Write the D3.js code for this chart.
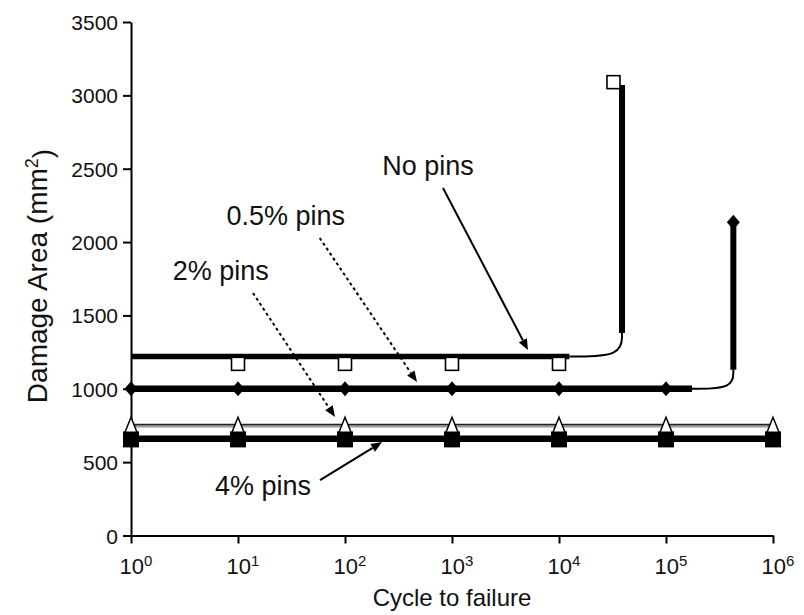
<!DOCTYPE html>
<html>
<head>
<meta charset="utf-8">
<script src="https://cdn.jsdelivr.net/npm/d3@7"></script>
<style>
  body { margin: 0; background: #fff; }
  svg { display: block; }
  text { font-family: "Liberation Sans", Arial, Helvetica, sans-serif; fill: #111; }
</style>
</head>
<body>
<svg id="chart" width="804" height="615"></svg>
<script>
// ---------------- data ----------------
const decades = [1, 10, 100, 1000, 1e4, 1e5, 1e6];
const decadeExponents = [0, 1, 2, 3, 4, 5, 6];
const yTicks = [0, 500, 1000, 1500, 2000, 2500, 3000, 3500];

// No pins
const noPinsLineX = [1, 12500];
const noPinsLevel = 1220;
const noPinsElbowX = [12500, 38800, 38800];
const noPinsElbowY = [1220, 1220, 1380];
const noPinsRiseX = [38800, 38800];
const noPinsRiseY = [1380, 3070];
const noPinsMarkerX = [10, 100, 1000, 10000];
const noPinsMarkerY = [1170, 1170, 1170, 1170];
const noPinsFailX = [32300];
const noPinsFailY = [3090];

// 0.5% pins
const pins05LineX = [1, 175000];
const pins05Level = 1000;
const pins05ElbowX = [175000, 426000, 426000];
const pins05ElbowY = [1000, 1000, 1130];
const pins05RiseX = [426000, 426000];
const pins05RiseY = [1130, 2110];
const pins05MarkerX = [1, 10, 100, 1000, 1e4, 1e5];
const pins05MarkerY = [1000, 1000, 1000, 1000, 1000, 1000];
const pins05FailX = [426000];
const pins05FailY = [2135];

// 2% pins
const pins2LineX = [1, 1e6];
const pins2Level = 750;
const pins2MarkerX = [1, 10, 100, 1000, 1e4, 1e5, 1e6];
const pins2MarkerY = [745, 745, 745, 745, 745, 745, 745];

// 4% pins
const pins4LineX = [1, 1e6];
const pins4Level = 660;
const pins4MarkerX = [1, 10, 100, 1000, 1e4, 1e5, 1e6];
const pins4MarkerY = [655, 655, 655, 655, 655, 655, 655];

// annotations
const annoText = ["No pins", "0.5% pins", "2% pins", "4% pins"];
const annoX = [597, 28, 6.9, 17.1];
const annoY = [2455, 2116, 1742, 276];
const arrowX0 = [824, 58, 13.8, 58.4];
const arrowY0 = [2369, 2028, 1653, 378];
const arrowX1 = [5130, 471, 80.7, 222];
const arrowY1 = [1264, 1046, 808, 637];
const arrowDashed = [false, true, true, false];

// ---------------- drawing ----------------
const svg = d3.select("#chart");
const x = d3.scaleLog().domain([1, 1e6]).range([131, 773]);
const y = d3.scaleLinear().domain([0, 3500]).range([535.5, 22]);

const line = d3.line().x(d => x(d[0])).y(d => y(d[1]));
const curve = d3.line().x(d => x(d[0])).y(d => y(d[1])).curve(d3.curveBasis);
const zip = (a, b) => a.map((v, i) => [v, b[i]]);
const flat = (xs, lvl) => xs.map(v => [v, lvl]);

// axes
const yAxis = d3.axisLeft(y).tickValues(yTicks).tickSize(8).tickSizeOuter(0).tickPadding(5)
  .tickFormat(d3.format("d"));
const gy = svg.append("g").attr("transform", `translate(${x(1)},0)`).call(yAxis);
gy.selectAll("text").style("font-size", "21px").attr("fill", "#111").attr("dy", "0.36em");

const xAxis = d3.axisBottom(x).tickValues(decades).tickSize(8).tickSizeOuter(0).tickPadding(6)
  .tickFormat(() => "");
const gx = svg.append("g").attr("transform", `translate(0,${y(0)})`).call(xAxis);
gx.selectAll(".tick text").each(function(d, i) {
  const t = d3.select(this).style("font-size", "22px").attr("fill", "#111")
    .attr("y", 38).attr("dy", 0).attr("dx", "0.2em");
  t.append("tspan").text("10");
  t.append("tspan").text(decadeExponents[i]).attr("dy", "-0.5em").style("font-size", "15px");
});
[gx, gy].forEach(g => {
  g.select(".domain").attr("stroke", "#000").attr("stroke-width", 2);
  g.selectAll(".tick line").attr("stroke", "#000").attr("stroke-width", 2);
});

// axis titles
svg.append("text").attr("x", (x(1) + x(1e6)) / 2).attr("y", 606)
  .attr("text-anchor", "middle").style("font-size", "24px").text("Cycle to failure");
const yt = svg.append("text").attr("transform", `translate(47,276) rotate(-90)`)
  .attr("text-anchor", "middle").style("font-size", "28px");
yt.append("tspan").text("Damage Area (mm");
yt.append("tspan").text("2").attr("dy", "-0.5em").style("font-size", "18px");
yt.append("tspan").text(")").attr("dy", "0.5em");

const plot = svg.append("g");

// 2% line (double-looking)
plot.append("path").attr("d", line(flat(pins2LineX, pins2Level)))
  .attr("fill", "none").attr("stroke", "#222").attr("stroke-width", 3.5);
plot.append("path").attr("d", line(flat(pins2LineX, pins2Level)))
  .attr("fill", "none").attr("stroke", "#fff").attr("stroke-width", 1)
  .attr("transform", "translate(0,0.6)");

// thick lines
function thick(path, w) {
  plot.append("path").attr("d", path).attr("fill", "none").attr("stroke", "#000")
    .attr("stroke-width", w).attr("stroke-linecap", "butt");
}
thick(line(flat(pins4LineX, pins4Level)), 6.5);
thick(line(flat(pins05LineX, pins05Level)), 6.5);
thick(curve(zip(pins05ElbowX, pins05ElbowY)), 2);
thick(line(zip(pins05RiseX, pins05RiseY)), 6);
thick(line(flat(noPinsLineX, noPinsLevel)), 5.5);
thick(curve(zip(noPinsElbowX, noPinsElbowY)), 2);
thick(line(zip(noPinsRiseX, noPinsRiseY)), 6);

// markers: 4% filled squares
plot.selectAll(".sq4").data(zip(pins4MarkerX, pins4MarkerY)).enter().append("rect")
  .attr("x", d => x(d[0]) - 8).attr("y", d => y(d[1]) - 8)
  .attr("width", 16).attr("height", 16).attr("fill", "#000");
// 2% open triangles
plot.selectAll(".tri2").data(zip(pins2MarkerX, pins2MarkerY)).enter().append("path")
  .attr("d", d => { const cx = x(d[0]), cy = y(d[1]);
    return `M${cx},${cy - 9}L${cx + 6},${cy + 6}L${cx - 6},${cy + 6}Z`; })
  .attr("fill", "#fff").attr("stroke", "#000").attr("stroke-width", 1.5);
// 0.5% diamonds
const diamond = (cx, cy) => `M${cx},${cy - 7.5}L${cx + 6.5},${cy}L${cx},${cy + 7.5}L${cx - 6.5},${cy}Z`;
plot.selectAll(".dia").data(zip(pins05MarkerX, pins05MarkerY).concat(zip(pins05FailX, pins05FailY)))
  .enter().append("path").attr("d", d => diamond(x(d[0]), y(d[1]))).attr("fill", "#000");
// no pins open squares
plot.selectAll(".sq0").data(zip(noPinsMarkerX, noPinsMarkerY).concat(zip(noPinsFailX, noPinsFailY)))
  .enter().append("rect")
  .attr("x", d => x(d[0]) - 6.5).attr("y", d => y(d[1]) - 6.5)
  .attr("width", 13).attr("height", 13).attr("fill", "#fff").attr("stroke", "#000").attr("stroke-width", 1.6);

// annotations
annoText.forEach((t, i) => {
  svg.append("text").attr("x", x(annoX[i])).attr("y", y(annoY[i]))
    .attr("text-anchor", "middle").style("font-size", "27px").text(t);
  const x0 = x(arrowX0[i]), y0 = y(arrowY0[i]), x1 = x(arrowX1[i]), y1 = y(arrowY1[i]);
  const ang = Math.atan2(y1 - y0, x1 - x0);
  const L = 11, W = 4.5;
  const bx = x1 - L * Math.cos(ang), by = y1 - L * Math.sin(ang);
  svg.append("line").attr("x1", x0).attr("y1", y0).attr("x2", bx).attr("y2", by)
    .attr("stroke", "#000").attr("stroke-width", 2)
    .attr("stroke-dasharray", arrowDashed[i] ? "3,3" : null);
  svg.append("path").attr("d",
    `M${x1},${y1}L${bx + W * Math.sin(ang)},${by - W * Math.cos(ang)}L${bx - W * Math.sin(ang)},${by + W * Math.cos(ang)}Z`)
    .attr("fill", "#000");
});
</script>
</body>
</html>
